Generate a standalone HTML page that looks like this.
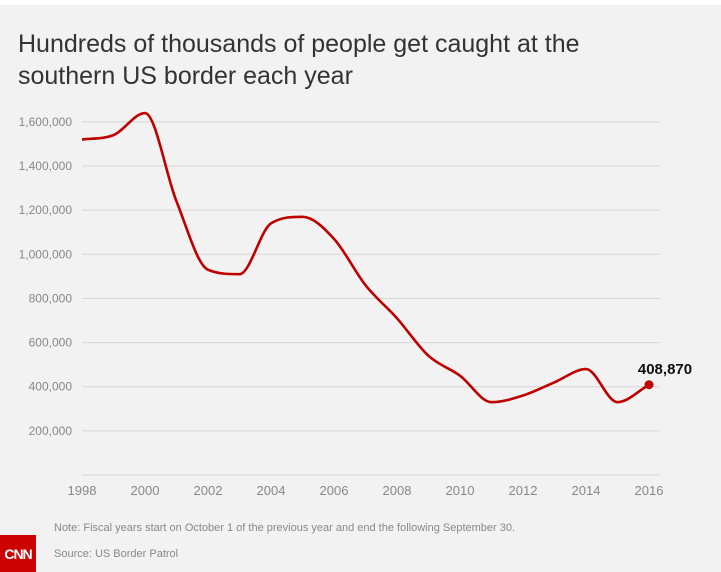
<!DOCTYPE html>
<html><head><meta charset="utf-8"><style>
html,body{margin:0;padding:0;}
body{width:721px;height:572px;background:#fff;position:relative;overflow:hidden;font-family:"Liberation Sans",sans-serif;}
#bg{position:absolute;left:0;top:5px;width:721px;height:567px;background:#f2f2f2;}
</style></head><body>
<div id="bg"></div>
<svg width="721" height="572" style="position:absolute;left:0;top:0">
<text x="18" y="52" font-size="25" fill="#333" font-family="Liberation Sans, sans-serif">Hundreds of thousands of people get caught at the</text>
<text x="18" y="84" font-size="25" fill="#333" font-family="Liberation Sans, sans-serif">southern US border each year</text>
<g id="grid" stroke="#d6d6d6" stroke-width="1"></g>
<g id="yl" font-size="12" fill="#888" text-anchor="end" font-family="Liberation Sans, sans-serif"></g>
<g id="xl" font-size="13" fill="#888" text-anchor="middle" font-family="Liberation Sans, sans-serif"></g>
<path id="line" fill="none" stroke="#c00000" stroke-width="2.6"/>
<circle cx="649" cy="384.7" r="4.5" fill="#c00000"/>
<text x="665" y="374" font-size="15" font-weight="bold" fill="#111" text-anchor="middle" font-family="Liberation Sans, sans-serif">408,870</text>
<text x="54" y="531" font-size="11" fill="#888" font-family="Liberation Sans, sans-serif">Note: Fiscal years start on October 1 of the previous year and end the following September 30.</text>
<text x="54" y="557" font-size="11" fill="#888" font-family="Liberation Sans, sans-serif">Source: US Border Patrol</text>
<rect x="0" y="535" width="36" height="37" fill="#cc0000"/>
<text x="18" y="559" font-size="14" font-weight="bold" fill="#fff" text-anchor="middle" font-family="Liberation Sans, sans-serif" letter-spacing="-1">CNN</text>
</svg>
<script>
var ns="http://www.w3.org/2000/svg";
function Y(v){return 475-v/200000*44.14;}
var g=document.getElementById('grid'),yl=document.getElementById('yl'),xl=document.getElementById('xl');
for(var i=0;i<=8;i++){var y=475-i*44.14;var l=document.createElementNS(ns,'line');l.setAttribute('x1',82);l.setAttribute('x2',660);l.setAttribute('y1',y);l.setAttribute('y2',y);g.appendChild(l);
if(i>0){var t=document.createElementNS(ns,'text');t.setAttribute('x',72);t.setAttribute('y',y+4);t.textContent=(i*200000).toLocaleString('en-US');yl.appendChild(t);}}
for(var k=0;k<10;k++){var t=document.createElementNS(ns,'text');t.setAttribute('x',82+63*k);t.setAttribute('y',495);t.textContent=1998+2*k;xl.appendChild(t);}
var v=[1.52,1.54,1.64,1.24,0.93,0.91,1.14,1.17,1.07,0.86,0.71,0.54,0.45,0.33,0.36,0.42,0.48,0.33,0.409];
var P=v.map(function(a,i){return [82+31.5*i,Y(a*1e6)];});
// monotone cubic
var n=P.length,d=[],m=[];
for(i=0;i<n-1;i++)d.push((P[i+1][1]-P[i][1])/(P[i+1][0]-P[i][0]));
m[0]=d[0];m[n-1]=d[n-2];
for(i=1;i<n-1;i++){m[i]=(d[i-1]*d[i]<=0)?0:(d[i-1]+d[i])/2;}
for(i=0;i<n-1;i++){if(d[i]==0){m[i]=m[i+1]=0;continue;}var a=m[i]/d[i],b=m[i+1]/d[i],s=a*a+b*b;if(s>9){var t=3/Math.sqrt(s);m[i]=t*a*d[i];m[i+1]=t*b*d[i];}}
var s="M"+P[0][0]+","+P[0][1];
for(i=0;i<n-1;i++){var h=(P[i+1][0]-P[i][0])/3;s+=" C"+(P[i][0]+h)+","+(P[i][1]+m[i]*h)+" "+(P[i+1][0]-h)+","+(P[i+1][1]-m[i+1]*h)+" "+P[i+1][0]+","+P[i+1][1];}
document.getElementById('line').setAttribute('d',s);
</script>
</body></html>
